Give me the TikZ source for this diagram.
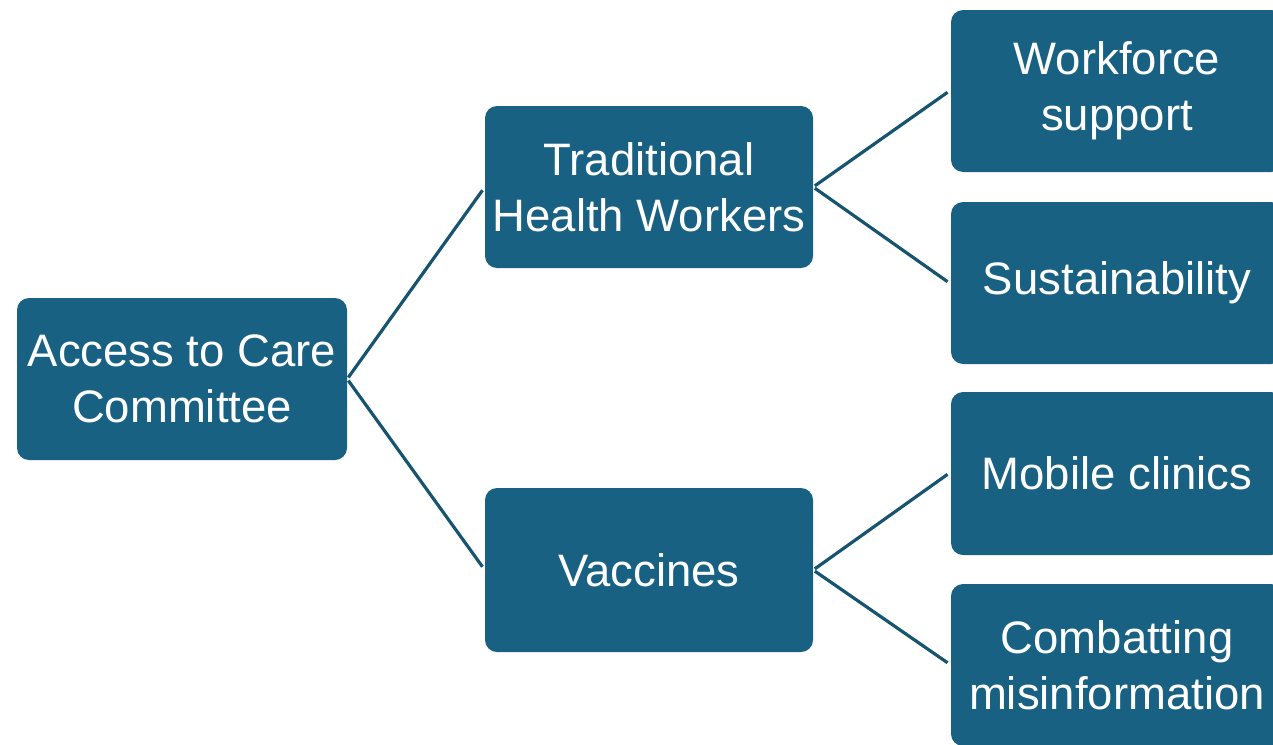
\documentclass[tikz,border=0pt]{standalone}
\usepackage{fontspec}
\setmainfont{Liberation Sans}
\definecolor{boxfill}{RGB}{24,97,131}
\definecolor{linkcol}{RGB}{22,84,112}
\begin{document}
\begin{tikzpicture}[x=1pt,y=-1pt,
  topic/.style={fill=boxfill, draw=none, rounded corners=12pt, text=white,
    minimum width=330pt, minimum height=162pt, inner sep=0pt, align=center,
    font=\fontsize{45.5}{56}\selectfont},
  link/.style={draw=linkcol, line width=3.2pt, shorten <=2pt, shorten >=4pt}]
\useasboundingbox (0,0) rectangle (1273,744);
\clip (0,0) rectangle (1273,744);
\node[topic] (root) at (182,379) {Access to Care\\Committee};
\node[topic, minimum width=328pt] (thw) at (649,187) {Traditional\\Health Workers};
\node[topic, minimum width=328pt, minimum height=164pt] (vac) at (649,570) {Vaccines};
\node[topic, minimum width=332pt] (work) at (1117,91) {Workforce\\support};
\node[topic, minimum width=332pt] (sust) at (1117,283) {Sustainability};
\node[topic, minimum width=332pt, minimum height=163pt] (mob) at (1117,473.5) {Mobile clinics};
\node[topic, minimum width=332pt] (comb) at (1117,665) {Combatting\\misinformation};
\draw[link] (root.east) -- (thw.west);
\draw[link] (root.east) -- (vac.west);
\draw[link] (thw.east) -- ([yshift=1pt]work.west);
\draw[link] (thw.east) -- ([yshift=-1pt]sust.west);
\draw[link] (vac.east) -- ([yshift=1.5pt]mob.west);
\draw[link] (vac.east) -- (comb.west);
\end{tikzpicture}
\end{document}
